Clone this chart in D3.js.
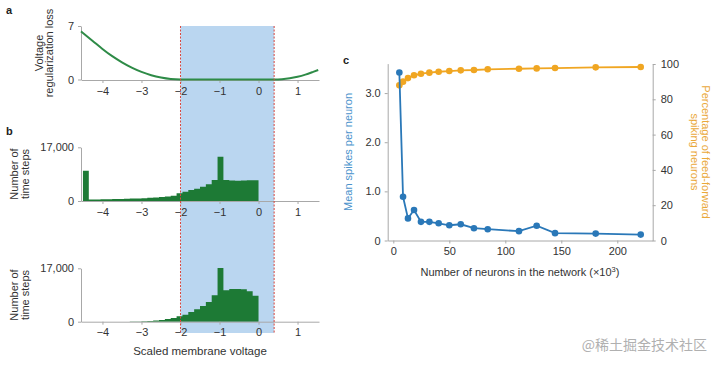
<!DOCTYPE html>
<html>
<head>
<meta charset="utf-8">
<script src="https://cdn.jsdelivr.net/npm/d3@7"></script>
<style>
  html, body { margin: 0; padding: 0; background: #fff; }
  svg { display: block; font-family: "Liberation Sans", Arial, sans-serif; }
  .tick text { fill: #333; font-size: 11px; }
  .domain, .tick line { stroke: #a8a8a8; }
</style>
</head>
<body>
<svg id="chart" width="720" height="365"></svg>
<script>
// ---------- Data ----------
// Panel a: voltage regularization loss curve (voltage, loss)
const lossVoltage = [-4.55, -4.25, -4.0, -3.75, -3.5, -3.25, -3.0, -2.75, -2.5, -2.25, -2.0, 0.4, 0.6, 0.8, 1.0, 1.2, 1.4, 1.53];
const lossValue   = [6.3, 5.05, 4.0, 3.05, 2.25, 1.56, 1.0, 0.56, 0.25, 0.06, 0.0, 0.0, 0.04, 0.16, 0.36, 0.64, 1.0, 1.25];

// Panel b: histogram bins (left edges, width 0.15) and counts
const binStart = [-4.5, -4.35, -4.2, -4.05, -3.9, -3.75, -3.6, -3.45, -3.3, -3.15,
                  -3.0, -2.85, -2.7, -2.55, -2.4, -2.25, -2.1, -1.95, -1.8, -1.65,
                  -1.5, -1.35, -1.2, -1.05, -0.9, -0.75, -0.6, -0.45, -0.3, -0.15];
const binWidth = 0.15;
const countsBefore = [9600, 450, 480, 520, 560, 600, 650, 700, 760, 830,
                      900, 990, 1100, 1250, 1420, 1650, 2440, 2950, 3480, 3900,
                      4540, 5280, 6650, 14000, 6650, 6500, 6450, 6500, 6600, 6600];
const countsAfter  = [0, 0, 0, 0, 0, 0, 0, 15, 30, 60,
                      120, 200, 350, 550, 850, 1200, 1700, 2230, 3090, 3950,
                      5000, 6270, 8400, 17100, 10000, 10400, 10400, 10300, 9700, 8300];

// Highlighted voltage range
const bandRange = [-2.0, 0.4];

// Panel c
const neurons       = [5.4, 8.7, 13.1, 18.5, 24.7, 32.2, 40.5, 50, 60.2, 72, 84.3, 112.2, 128, 144.4, 180.7, 220.9];
const meanSpikes    = [3.42, 0.89, 0.45, 0.62, 0.38, 0.38, 0.35, 0.31, 0.33, 0.25, 0.23, 0.19, 0.30, 0.15, 0.14, 0.12];
const pctFeedForward= [87.9, 90.0, 92.0, 93.6, 94.5, 95.1, 95.6, 96.0, 96.4, 96.6, 97.0, 97.3, 97.5, 97.7, 98.1, 98.3];

const voltTicks  = [-4, -3, -2, -1, 0, 1];
const lossTicks  = [0, 7];
const countTicks = [0, 17000];
const neuronTicks = [0, 50, 100, 150, 200];
const spikeTicks = [0, 1, 2, 3];
const pctTicks   = [0, 20, 40, 60, 80, 100];

// ---------- Drawing ----------
const svg = d3.select("#chart");
const green = "#1d7a35";
const curveGreen = "#2e8b47";
const blue = "#2a78b8";
const orange = "#f0a622";

const x = d3.scaleLinear().domain([-4.55, 1.55]).range([81, 319]);
const yA  = d3.scaleLinear().domain([0, 7]).range([79.5, 26]);
const yB1 = d3.scaleLinear().domain([0, 17000]).range([201, 147.3]);
const yB2 = d3.scaleLinear().domain([0, 17000]).range([321.7, 268.3]);

// blue band behind everything
svg.append("rect")
  .attr("x", x(bandRange[0])).attr("y", 26)
  .attr("width", x(bandRange[1]) - x(bandRange[0]))
  .attr("height", 333 - 26)
  .attr("fill", "#bad6f0");

function xAxis(yPos) {
  const g = svg.append("g").attr("transform", `translate(0,${yPos})`)
    .call(d3.axisBottom(x).tickValues(voltTicks).tickSize(3).tickSizeOuter(0).tickPadding(4)
      .tickFormat(d3.format("d")));
  return g;
}
function yAxis(scale, ticks, fmt) {
  return svg.append("g").attr("transform", `translate(81,0)`)
    .call(d3.axisLeft(scale).tickValues(ticks).tickSize(3).tickSizeOuter(0).tickPadding(4).tickFormat(fmt));
}

// Panel a
xAxis(80);
yAxis(yA, lossTicks, d3.format("d"));
const pts = lossVoltage.map((v, i) => [v, lossValue[i]]);
svg.append("path")
  .datum(pts)
  .attr("fill", "none").attr("stroke", curveGreen).attr("stroke-width", 2)
  .attr("d", d3.line().x(d => x(d[0])).y(d => yA(d[1])).curve(d3.curveMonotoneX));

// Histograms drawn as one stepped area (no seams between bars)
function hist(yScale, counts) {
  const data = binStart.map((s, i) => ({ s, c: counts[i] }));
  data.push({ s: binStart[binStart.length - 1] + binWidth, c: 0 });
  svg.append("path")
    .datum(data)
    .attr("fill", green)
    .attr("d", d3.area().x(d => x(d.s)).y0(yScale(0)).y1(d => yScale(d.c)).curve(d3.curveStepAfter));
}
hist(yB1, countsBefore);
xAxis(201);
yAxis(yB1, countTicks, d3.format(","));

hist(yB2, countsAfter);
xAxis(321.7);
yAxis(yB2, countTicks, d3.format(","));

// red dashed band edges
bandRange.forEach(v => {
  svg.append("line")
    .attr("x1", x(v)).attr("x2", x(v)).attr("y1", 26).attr("y2", 333)
    .attr("stroke", "#d9473f").attr("stroke-width", 1).attr("stroke-dasharray", "2,1.5");
});

// rotated multi-line labels
function rotLabel(lines, cx, cy, gap, rot, color) {
  const t = svg.append("text")
    .attr("transform", `translate(${cx},${cy}) rotate(${rot})`)
    .attr("text-anchor", "middle").attr("font-size", 11).attr("fill", color || "#333");
  lines.forEach((l, i) => {
    t.append("tspan").attr("x", 0).attr("y", (i - (lines.length - 1) / 2) * gap + 4).text(l);
  });
}
rotLabel(["Voltage", "regularization loss"], 43.5, 53, 10, -90);
rotLabel(["Number of", "time steps"], 19.5, 174, 11, -90);
rotLabel(["Number of", "time steps"], 19.5, 295, 11, -90);

svg.append("text").attr("x", 200).attr("y", 355).attr("text-anchor", "middle")
  .attr("font-size", 11.5).attr("fill", "#333").text("Scaled membrane voltage");

svg.append("text").attr("x", 6).attr("y", 14).attr("font-size", 11).attr("font-weight", "bold").attr("fill", "#222").text("a");
svg.append("text").attr("x", 6).attr("y", 135).attr("font-size", 11).attr("font-weight", "bold").attr("fill", "#222").text("b");
svg.append("text").attr("x", 343).attr("y", 64).attr("font-size", 11).attr("font-weight", "bold").attr("fill", "#222").text("c");

// Panel c
const xc = d3.scaleLinear().domain([-5, 231.6]).range([387.7, 652.7]);
const yL = d3.scaleLinear().domain([0, 3.6]).range([240.5, 63.6]);
const yR = d3.scaleLinear().domain([0, 100]).range([240.5, 64]);

svg.append("g").attr("transform", "translate(0,240.5)")
  .call(d3.axisBottom(xc).tickValues(neuronTicks).tickSize(3).tickSizeOuter(0).tickPadding(4).tickFormat(d3.format("d")));
svg.append("g").attr("transform", "translate(387.7,0)")
  .call(d3.axisLeft(yL).tickValues(spikeTicks).tickSize(3).tickSizeOuter(0).tickPadding(4)
    .tickFormat(d => d === 0 ? "0" : d3.format(".1f")(d)));
svg.append("g").attr("transform", "translate(652.7,0)")
  .call(d3.axisRight(yR).tickValues(pctTicks).tickSize(3).tickSizeOuter(0).tickPadding(5).tickFormat(d3.format("d")));

const lineL = d3.line().x((d, i) => xc(neurons[i])).y(d => yL(d));
const lineR = d3.line().x((d, i) => xc(neurons[i])).y(d => yR(d));

svg.append("path").datum(pctFeedForward).attr("fill", "none").attr("stroke", orange).attr("stroke-width", 1.8).attr("d", lineR);
svg.append("g").selectAll("circle").data(pctFeedForward).join("circle")
  .attr("cx", (d, i) => xc(neurons[i])).attr("cy", d => yR(d)).attr("r", 3.3).attr("fill", orange);

svg.append("path").datum(meanSpikes).attr("fill", "none").attr("stroke", blue).attr("stroke-width", 1.8).attr("d", lineL);
svg.append("g").selectAll("circle").data(meanSpikes).join("circle")
  .attr("cx", (d, i) => xc(neurons[i])).attr("cy", d => yL(d)).attr("r", 3.3).attr("fill", blue);

const xt = svg.append("text").attr("x", 520).attr("y", 276).attr("text-anchor", "middle")
  .attr("font-size", 11).attr("fill", "#333");
xt.append("tspan").text("Number of neurons in the network (×10");
xt.append("tspan").attr("font-size", 7.5).attr("dy", -4).text("3");
xt.append("tspan").attr("dy", 4).text(")");

rotLabel(["Mean spikes per neuron"], 348, 152, 11, -90, "#4b93cc");
rotLabel(["Percentage of feed-forward", "spiking neurons"], 700.5, 152, 11.5, 90, "#eaa83a");

// watermark
svg.append("text").attr("x", 707).attr("y", 350).attr("text-anchor", "end")
  .attr("font-family", "'Noto Sans CJK SC', sans-serif").attr("font-size", 14)
  .attr("fill", "#b0b0b0").text("@稀土掘金技术社区");
</script>
</body>
</html>
